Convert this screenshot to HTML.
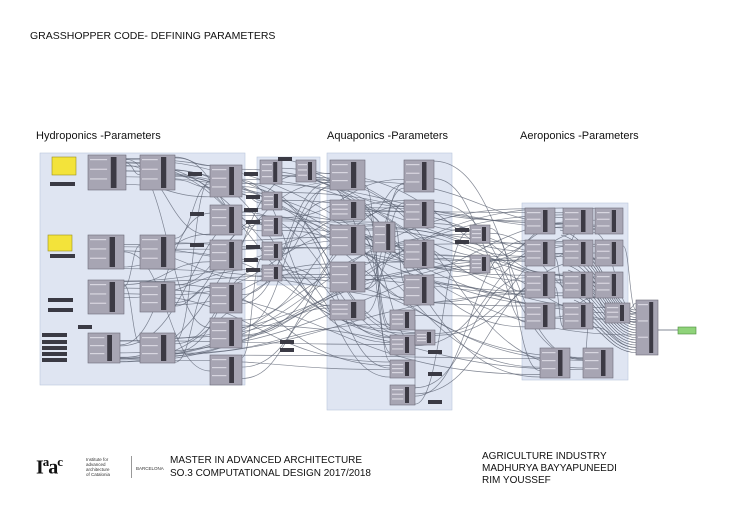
<!DOCTYPE html>
<html><head><meta charset="utf-8"><style>
body{margin:0;background:#fff;width:730px;height:516px;overflow:hidden;font-family:"Liberation Sans",sans-serif}
.t{position:absolute;color:#111;white-space:nowrap}
</style></head><body>
<div class="t" style="left:30px;top:30px;font-size:10.5px">GRASSHOPPER CODE- DEFINING PARAMETERS</div>
<div class="t" style="left:36px;top:130px;font-size:11px">Hydroponics -Parameters</div>
<div class="t" style="left:327px;top:130px;font-size:11px">Aquaponics -Parameters</div>
<div class="t" style="left:520px;top:130px;font-size:11px">Aeroponics -Parameters</div>
<svg id="s" width="730" height="516" style="position:absolute;left:0;top:0"></svg>
<div class="t" style="left:36px;top:454px;font-family:'Liberation Serif',serif;font-weight:bold;font-size:20px;letter-spacing:-1px">I<sup style="font-size:13px">a</sup>a<sup style="font-size:13px">c</sup></div>
<div class="t" style="left:86px;top:457px;font-size:4.5px;line-height:5px;color:#333">Institute for<br>advanced<br>architecture<br>of Catalonia</div>
<div style="position:absolute;left:131px;top:456px;width:1px;height:22px;background:#999"></div>
<div class="t" style="left:136px;top:466px;font-size:4.5px;color:#333">BARCELONA</div>
<div class="t" style="left:170px;top:454px;font-size:10px;line-height:13px">MASTER IN ADVANCED ARCHITECTURE<br>SO.3 COMPUTATIONAL DESIGN 2017/2018</div>
<div class="t" style="left:482px;top:451px;font-size:10px;line-height:12px">AGRICULTURE INDUSTRY<br>MADHURYA BAYYAPUNEEDI<br>RIM YOUSSEF</div>
<script>
var s=document.getElementById('s'),h='';
function r(x,y,w,ht,f,st){h+='<rect x="'+x+'" y="'+y+'" width="'+w+'" height="'+ht+'" fill="'+f+'" stroke="'+(st||'none')+'" stroke-width="0.6"/>';}
r(40,153,205,232,'#dfe5f2','#b9c5dd');r(257,157,63,128,'#dfe5f2','#b9c5dd');
r(327,153,125,257,'#dfe5f2','#b9c5dd');r(522,203,106,177,'#dfe5f2','#b9c5dd');
var B=[[88,155,38,35],[140,155,35,35],[88,235,36,34],[140,235,35,34],[88,280,36,34],[140,282,35,30],[88,333,32,30],[140,333,35,30],
[210,165,32,32],[210,205,32,30],[210,240,32,30],[210,283,32,30],[210,318,32,30],[210,355,32,30],
[260,160,22,24],[296,160,20,22],[262,192,20,18],[262,216,20,20],[262,242,20,18],[262,265,20,16],
[330,160,35,30],[330,200,35,20],[330,225,35,30],[330,262,35,30],[330,300,35,20],[373,222,22,30],[404,160,30,32],[404,200,30,28],[404,240,30,28],[404,275,30,30],
[390,310,25,20],[390,335,25,20],[390,360,25,18],[390,385,25,20],[415,330,20,15],[470,225,20,18],[470,255,20,18],
[525,208,30,26],[525,240,30,26],[525,272,30,26],[525,303,30,26],[563,208,30,26],[563,240,30,26],[563,272,30,26],[563,303,30,26],[595,208,28,26],[595,240,28,26],[595,272,28,26],
[540,348,30,30],[583,348,30,30],[636,300,22,55],[605,303,25,20]];
var W='';var seed=7;function rnd(){seed=(seed*9301+49297)%233280;return seed/233280;}
for(var i=0;i<180;i++){var a=B[Math.floor(rnd()*B.length)],b=B[Math.floor(rnd()*B.length)];if(b[0]<=a[0]){var t=a;a=b;b=t}
if(b[0]-a[0]<15)continue;var x1=a[0]+a[2],y1=a[1]+rnd()*a[3],x2=b[0],y2=b[1]+rnd()*b[3],dx=(x2-x1)*0.5;
W+='<path d="M'+x1+' '+y1+'C'+(x1+dx)+' '+y1+' '+(x2-dx)+' '+y2+' '+x2+' '+y2+'" fill="none" stroke="#5a6070" stroke-width="0.7" opacity="0.75"/>';}
for(i=0;i<18;i++){var y=310+i*2.5;W+='<path d="M'+(560+i)+' '+(230+i*5)+'C600 '+(240+i*5)+' 610 '+y+' 636 '+y+'" fill="none" stroke="#5a6070" stroke-width="0.6"/>';}
W+='<path d="M658 330L680 330" stroke="#5a6070" stroke-width="0.8"/>';
h+=W;
B.forEach(function(b){r(b[0],b[1],b[2],b[3],'#a7a5b3','#6d6b78');var c=b[0]+b[2]*0.6;r(c,b[1]+2,Math.max(4,b[2]*0.15),b[3]-4,'#3c3a44');
for(var k=0;k<3&&b[3]>14;k++)r(b[0]+2,b[1]+4+k*(b[3]-6)/3,b[2]*0.45,1.2,'#d8d6e0');});
r(52,157,24,18,'#f3e33a','#9a8f20');r(48,235,24,16,'#f3e33a','#9a8f20');
[[50,182],[50,254],[48,298],[48,308],[78,325],[42,333],[42,340],[42,346],[42,352],[42,358],[188,172],[244,172],[244,208],[244,258],[278,157],[246,195],[246,220],[246,245],[246,268],[190,212],[190,243],[455,228],[455,240],[428,350],[428,372],[428,400],[280,340],[280,348]].forEach(function(p){r(p[0],p[1],p[0]<60?25:14,4,'#3a3a44');});
r(678,327,18,7,'#8fd37a','#4a8a3a');
s.innerHTML=h;
</script>
</body></html>
